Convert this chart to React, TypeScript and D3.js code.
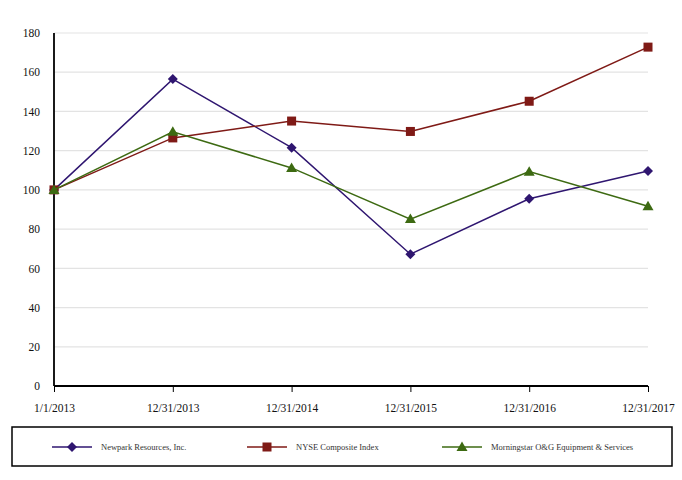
import { useEffect, useRef } from "react";
import * as d3 from "d3";

const dates = ["1/1/2013", "12/31/2013", "12/31/2014", "12/31/2015", "12/31/2016", "12/31/2017"];
const newpark = [100, 156.5, 121.5, 67.2, 95.5, 109.6];
const nyse = [100, 126.5, 135.1, 129.8, 145.2, 172.8];
const morningstar = [100, 129.6, 111.2, 85.1, 109.3, 91.7];
const yTicks = [0, 20, 40, 60, 80, 100, 120, 140, 160, 180];

const series = [
  { name: "Newpark Resources, Inc.", values: newpark, color: "#2f1670", marker: "diamond" },
  { name: "NYSE Composite Index", values: nyse, color: "#7f1a16", marker: "square" },
  { name: "Morningstar O&G Equipment & Services", values: morningstar, color: "#3d6a12", marker: "triangle" },
];

const width = 682;
const height = 480;
const font = "Liberation Serif, DejaVu Serif, serif";

function App() {
  const svgRef = useRef<SVGSVGElement | null>(null);

  useEffect(() => {
    const svg = d3.select(svgRef.current);
    svg.selectAll("*").remove();

    const xScale = d3.scalePoint<string>().domain(dates).range([54, 648]);
    const yScale = d3.scaleLinear().domain([0, 180]).range([386, 33]);

    // grid
    svg
      .append("g")
      .selectAll("line")
      .data(yTicks.filter((d) => d > 0))
      .enter()
      .append("line")
      .attr("x1", 54)
      .attr("x2", 648)
      .attr("y1", (d) => yScale(d))
      .attr("y2", (d) => yScale(d))
      .attr("stroke", "#e3e3e3")
      .attr("stroke-width", 1.2);

    // y axis labels
    const yAxis = d3.axisLeft(yScale).tickValues(yTicks).tickSize(0).tickPadding(14);
    const yg = svg.append("g").attr("transform", "translate(54,0)").call(yAxis);
    yg.attr("font-family", null);
    yg.select(".domain").remove();
    yg.selectAll("text")
      .style("font-family", font)
      .style("font-size", "11.5px")
      .attr("fill", "#111");

    // x axis
    const xAxis = d3.axisBottom(xScale).tickSize(6).tickPadding(12);
    const xg = svg.append("g").attr("transform", "translate(0,386)").call(xAxis);
    xg.attr("font-family", null);
    xg.select(".domain").attr("stroke", "#000").attr("stroke-width", 1.8).attr("d", "M54,0H648");
    xg.selectAll(".tick line").attr("stroke", "#000").attr("stroke-width", 1);
    xg.selectAll("text")
      .style("font-family", font)
      .style("font-size", "11.5px")
      .attr("fill", "#111");

    // y axis line
    svg
      .append("line")
      .attr("x1", 54)
      .attr("x2", 54)
      .attr("y1", 33)
      .attr("y2", 386)
      .attr("stroke", "#000")
      .attr("stroke-width", 1.8);

    const line = d3
      .line<number>()
      .x((d, i) => xScale(dates[i]) as number)
      .y((d) => yScale(d));

    function drawMarker(
      g: d3.Selection<SVGGElement, unknown, null, undefined>,
      kind: string,
      x: number,
      y: number,
      color: string
    ) {
      if (kind === "diamond") {
        g.append("path")
          .attr("d", `M${x},${y - 5}L${x + 5},${y}L${x},${y + 5}L${x - 5},${y}Z`)
          .attr("fill", color);
      } else if (kind === "square") {
        g.append("rect")
          .attr("x", x - 4.5)
          .attr("y", y - 4.5)
          .attr("width", 9)
          .attr("height", 9)
          .attr("fill", color);
      } else {
        g.append("path")
          .attr("d", `M${x},${y - 5.5}L${x + 5.5},${y + 4}L${x - 5.5},${y + 4}Z`)
          .attr("fill", color);
      }
    }

    series.forEach((s) => {
      const g = svg.append("g");
      g.append("path")
        .attr("d", line(s.values) as string)
        .attr("fill", "none")
        .attr("stroke", s.color)
        .attr("stroke-width", 1.5);
      s.values.forEach((v, i) => {
        drawMarker(g, s.marker, xScale(dates[i]) as number, yScale(v), s.color);
      });
    });

    // legend
    svg
      .append("rect")
      .attr("x", 12)
      .attr("y", 427)
      .attr("width", 660)
      .attr("height", 39)
      .attr("fill", "#fff")
      .attr("stroke", "#000")
      .attr("stroke-width", 1.5);

    const legendX = [52, 247, 442];
    series.forEach((s, i) => {
      const g = svg.append("g");
      const x0 = legendX[i];
      g.append("line")
        .attr("x1", x0)
        .attr("x2", x0 + 40)
        .attr("y1", 447)
        .attr("y2", 447)
        .attr("stroke", s.color)
        .attr("stroke-width", 1.5);
      drawMarker(g, s.marker, x0 + 20, 447, s.color);
      g.append("text")
        .attr("x", x0 + 49)
        .attr("y", 450)
        .style("font-family", font)
        .style("font-size", "8.5px")
        .attr("fill", "#333")
        .text(s.name);
    });
  }, []);

  return (
    <svg
      ref={svgRef}
      width={width}
      height={height}
      style={{ position: "absolute", left: 0, top: 0, background: "#fff" }}
    ></svg>
  );
}

export default App;
